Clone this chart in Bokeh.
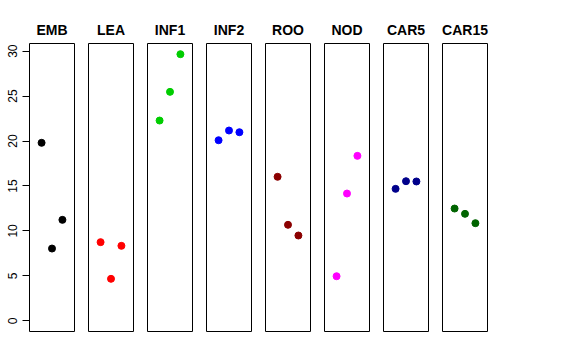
from bokeh.plotting import figure
from bokeh.layouts import row
from bokeh.models import Range1d, FixedTicker
from bokeh.embed import file_html
from bokeh.resources import INLINE

categories = ["EMB", "LEA", "INF1", "INF2", "ROO", "NOD", "CAR5", "CAR15"]
colors = ["#000000", "#FF0000", "#00CD00", "#0000FF", "#8B0000", "#FF00FF", "#00008B", "#006400"]
xpos = [1, 2, 3]
emb = [19.8, 8.04, 11.23]
lea = [8.75, 4.67, 8.34]
inf1 = [22.28, 25.47, 29.66]
inf2 = [20.09, 21.17, 20.98]
roo = [16.02, 10.68, 9.49]
nod = [4.96, 14.16, 18.35]
car5 = [14.68, 15.53, 15.50]
car15 = [12.49, 11.90, 10.86]
series = [emb, lea, inf1, inf2, roo, nod, car5, car15]
yticks = [0, 5, 10, 15, 20, 25, 30]

FONT = "Liberation Sans"
figs = []
for i, (cat, vals, col) in enumerate(zip(categories, series, colors)):
    first = i == 0
    p = figure(
        frame_width=45, frame_height=288,
        x_range=Range1d(-0.16, 4.16), y_range=Range1d(-1.19, 30.85),
        output_backend="svg", toolbar_location=None,
        x_axis_location=None,
        y_axis_location="left" if first else None,
        min_border_left=29 if first else 7, min_border_right=7,
        min_border_top=43, min_border_bottom=10,
        title=cat,
    )
    p.title.align = "center"
    p.title.text_font = FONT
    p.title.text_font_size = "14px"
    p.title.text_font_style = "bold"
    p.title.text_color = "black"
    p.title.standoff = 12
    p.grid.visible = False
    p.outline_line_color = "black"
    p.outline_line_width = 1
    p.outline_line_alpha = 1
    if first:
        ax = p.yaxis[0]
        ax.ticker = FixedTicker(ticks=yticks)
        ax.bounds = (0, 30)
        ax.major_label_orientation = "vertical"
        ax.major_label_text_font = FONT
        ax.major_label_text_font_size = "12px"
        ax.major_label_text_color = "black"
        ax.major_tick_out = 7
        ax.major_tick_in = 0
        ax.minor_tick_out = 0
        ax.minor_tick_in = 0
        ax.major_label_standoff = 5
        ax.axis_line_color = "black"
        ax.major_tick_line_color = "black"
    p.scatter(x=xpos, y=vals, size=7, color=col, line_color=col)
    figs.append(p)

layout = row(*figs, spacing=0)
open("out.html", "w").write(file_html(layout, INLINE))
